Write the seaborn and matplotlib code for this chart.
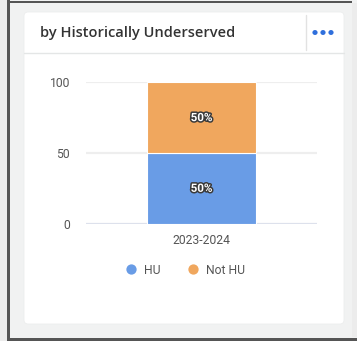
import matplotlib
matplotlib.use("Agg")
import matplotlib.pyplot as plt
import matplotlib.patheffects as pe
from matplotlib.patches import FancyBboxPatch, Rectangle, Circle
from matplotlib.lines import Line2D
import pandas as pd
import seaborn as sns

# Data
years = ["2023-2024"]
groups = ["HU", "Not HU"]
hu_values = [50]
not_hu_values = [50]
y_ticks = [0, 50, 100]
title = "by Historically Underserved"

colors = {"HU": "#699ce6", "Not HU": "#f0a75e"}

rows = []
for i, yr in enumerate(years):
    rows.append({"year": yr, "group": "HU", "value": hu_values[i]})
    rows.append({"year": yr, "group": "Not HU", "value": not_hu_values[i]})
df = pd.DataFrame(rows)

sns.set_theme(style="white")
plt.rcParams["font.family"] = ["Roboto", "DejaVu Sans"]

W, H = 357, 341
fig = plt.figure(figsize=(W / 100, H / 100), dpi=100)
fig.patch.set_facecolor("#f1f2f2")


def fx(px):
    return px / W


def fy(py):
    return 1 - py / H


# page frame
fig.add_artist(Rectangle((0, 0), fx(7), 1, transform=fig.transFigure,
                         facecolor="#ececec", edgecolor="none", zorder=0))
fig.add_artist(Rectangle((fx(352), fy(337)), fx(5), fy(3) - fy(337), transform=fig.transFigure,
                         facecolor="#ececec", edgecolor="none", zorder=0))
fig.add_artist(Rectangle((fx(7), 0), fx(3), 1, transform=fig.transFigure,
                         facecolor="#555555", edgecolor="none", zorder=1))
fig.add_artist(Rectangle((fx(7), fy(3)), fx(345), fy(0.5) - fy(3), transform=fig.transFigure,
                         facecolor="#555555", edgecolor="none", zorder=1))
fig.add_artist(Rectangle((fx(7), fy(340.5)), fx(350), fy(337.5) - fy(340.5), transform=fig.transFigure,
                         facecolor="#555555", edgecolor="none", zorder=1))

# card
fig.add_artist(FancyBboxPatch((fx(24), fy(324)), fx(320), fy(12) - fy(324),
                              boxstyle="round,pad=0,rounding_size=0.012",
                              transform=fig.transFigure, facecolor="white",
                              edgecolor="#eceeee", linewidth=0.6, zorder=1))
# header separators
fig.add_artist(Line2D([fx(24), fx(344)], [fy(53), fy(53)], transform=fig.transFigure,
                      color="#e4e6e6", linewidth=1.0, zorder=2))
fig.add_artist(Line2D([fx(306), fx(306)], [fy(15), fy(50)], transform=fig.transFigure,
                      color="#e2e2e2", linewidth=1.0, zorder=2))
# menu dots
for cx in (315, 323, 331):
    fig.add_artist(Circle((fx(cx), fy(32.5)), fx(2.6), transform=fig.transFigure,
                          facecolor="#2f6fdc", edgecolor="none", zorder=3))
# title
fig.text(fx(40), fy(32.5), title, fontsize=10.5, fontweight="semibold",
         family=["Open Sans", "DejaVu Sans"], color="#333333", va="center", ha="left", zorder=3)

# chart area
ax = fig.add_axes([fx(86), fy(223.7), fx(317) - fx(86), fy(82.3) - fy(223.7)])
ax.set_facecolor("none")
ax.set_zorder(2)

sns.histplot(data=df, x="year", hue="group", weights="value", multiple="stack",
             hue_order=["Not HU", "HU"], palette=colors, discrete=True, shrink=0.476,
             alpha=1, edgecolor="white", linewidth=0.8, legend=False, ax=ax)

ax.set_xlim(-0.5, 0.5)
ax.set_ylim(0, 100)
ax.set_yticks(y_ticks)
ax.set_xticks([0])
ax.set_xticklabels(years)
ax.set_xlabel("")
ax.set_ylabel("")
for s in ax.spines.values():
    s.set_visible(False)
ax.tick_params(axis="both", length=0, labelsize=8.7, labelcolor="#555555")
ax.tick_params(axis="y", pad=11.5)
ax.tick_params(axis="x", pad=7.5)
for yv in y_ticks:
    ax.axhline(yv, color="#dde1ec" if yv == 0 else "#eeeeee", linewidth=1.6, zorder=0)

# segment labels
for i, yr in enumerate(years):
    bottom = 0
    for vals in (hu_values, not_hu_values):
        v = vals[i]
        total = hu_values[i] + not_hu_values[i]
        ax.text(i, bottom + v / 2, f"{v / total * 100:.0f}%", ha="center", va="center",
                fontsize=8.3, fontweight="bold", color="white", zorder=5,
                path_effects=[pe.withStroke(linewidth=2.2, foreground="#3a3a3a")])
        bottom += v

# legend
handles = [Line2D([], [], marker="o", linestyle="none", markersize=7.4,
                  markerfacecolor=colors[g], markeredgecolor="none") for g in groups]
fig.legend(handles, groups, loc="center", bbox_to_anchor=(fx(185), fy(270)), ncol=2,
           frameon=False, fontsize=8.7, labelcolor="#555555", handletextpad=0.6,
           columnspacing=2.2, handlelength=1.0)

fig.savefig("out.png", dpi=100)
